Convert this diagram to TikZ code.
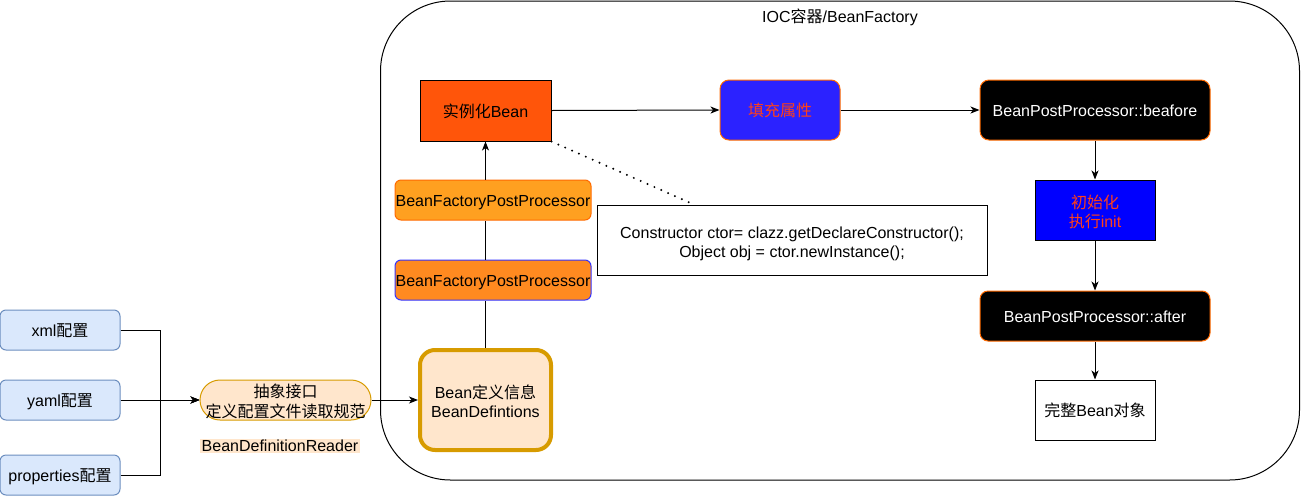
\documentclass[tikz,border=0pt]{standalone}
\usepackage{fontspec}
\setmainfont{Liberation Sans}
\newfontfamily\cjk{Noto Sans CJK SC}
\usetikzlibrary{arrows.meta}
\definecolor{cfgfill}{HTML}{DAE8FC}
\definecolor{cfgdraw}{HTML}{6C8EBF}
\definecolor{peach}{HTML}{FFE6CC}
\definecolor{gold}{HTML}{D79B00}
\definecolor{instfill}{HTML}{FF550A}
\definecolor{fillblue}{HTML}{2B22FF}
\definecolor{redtext}{HTML}{FF4019}
\definecolor{orangeline}{HTML}{FF6A00}
\definecolor{bfppa}{HTML}{FFA020}
\definecolor{bfppb}{HTML}{FF8A20}
\definecolor{linkblue}{HTML}{3333FF}
\newcommand{\ntxt}[2][-2.9pt]{\raisebox{#1}[\height][\depth]{\begin{tabular}{@{}c@{}}#2\end{tabular}}}
\begin{document}
\begin{tikzpicture}[x=1pt,y=-1pt,
  font=\fontsize{16}{19}\selectfont,
  base/.style={draw, line width=1pt, inner sep=0pt, align=center},
  cfg/.style={base, fill=cfgfill, draw=cfgdraw, rounded corners=6pt, minimum width=120pt, minimum height=40pt},
  arr/.style={line width=1pt, -{Stealth[length=9pt,width=7pt,inset=2.5pt]}},
  ln/.style={line width=1pt}]
\useasboundingbox (0,0) rectangle (1301,496);

% container
\node[draw, line width=1pt, rounded corners=70pt, minimum width=919pt, minimum height=479pt, inner sep=0pt] (ioc) at (840,240.5) {};
\node (title) at (840,17) {IOC{\cjk 容器}/BeanFactory};

% config sources
\node[cfg] (xml) at (60,330) {\ntxt{xml{\cjk 配置}}};
\node[cfg] (yaml) at (60,400) {\ntxt{yaml{\cjk 配置}}};
\node[cfg] (prop) at (60,475) {\ntxt{properties{\cjk 配置}}};
\coordinate (join) at (160,400);

\node[base, fill=peach, draw=gold, rounded corners=20pt, minimum width=171pt, minimum height=40pt] (reader) at (285.5,400) {\ntxt[-3.7pt]{{\cjk 抽象接口}\\{\cjk 定义配置文件读取规范}}};
\node[fill=peach, inner sep=1.5pt] (readerlbl) at (280,446) {BeanDefinitionReader};

\node[base, fill=peach, draw=gold, line width=4pt, rounded corners=15pt, minimum width=131pt, minimum height=100pt] (def) at (485.5,400) {\ntxt[-3.7pt]{Bean{\cjk 定义信息}\\BeanDefintions}};

\node[base, fill=bfppb, draw=linkblue, rounded corners=6pt, minimum width=196pt, minimum height=40pt] (bfpp2) at (493,280) {\ntxt{BeanFactoryPostProcessor}};
\node[base, fill=bfppa, draw=orangeline, rounded corners=6pt, minimum width=196pt, minimum height=40pt] (bfpp1) at (493,200) {\ntxt{BeanFactoryPostProcessor}};

\node[base, fill=instfill, minimum width=131pt, minimum height=61pt] (inst) at (485.5,110.5) {\ntxt{{\cjk 实例化}Bean}};

\node[base, fill=fillblue, draw=orangeline, rounded corners=9pt, minimum width=120pt, minimum height=60pt, text=redtext] (fill) at (780,110) {\ntxt{{\cjk 填充属性}}};

\node[base, fill=black, draw=orangeline, rounded corners=9pt, minimum width=230pt, minimum height=60pt, text=white] (before) at (1095,110) {\ntxt{BeanPostProcessor::beafore}};

\node[base, fill=blue, minimum width=120pt, minimum height=60pt, text=redtext] (init) at (1095,210) {\ntxt[-3.7pt]{{\cjk 初始化}\\{\cjk 执行}init}};

\node[base, fill=black, draw=orangeline, rounded corners=8pt, minimum width=230pt, minimum height=50pt, text=white] (after) at (1095,316) {\ntxt{BeanPostProcessor::after}};

\node[base, fill=white, minimum width=120pt, minimum height=60pt] (full) at (1095,410) {\ntxt{{\cjk 完整}Bean{\cjk 对象}}};

\node[base, fill=white, minimum width=390pt, minimum height=70pt] (code) at (792,240) {\ntxt[-3.7pt]{Constructor ctor= clazz.getDeclareConstructor();\\Object obj = ctor.newInstance();}};
\coordinate (codetop) at (695,205);

% connectors
\draw[arr] (xml.east) -| (join) -- (reader.west);
\draw[arr] (yaml.east) -- (reader.west);
\draw[arr] (prop.east) -| (join) -- (reader.west);
\draw[arr] (reader.east) -- (def.west);
\draw[ln] (def.north) -- (def.north |- bfpp2.south);
\draw[ln] (def.north |- bfpp2.north) -- (def.north |- bfpp1.south);
\draw[arr] (def.north |- bfpp1.north) -- (inst.south);
\draw[arr] (inst.east) -- (fill.west);
\draw[arr] (fill.east) -- (before.west);
\draw[arr] (before.south) -- (init.north);
\draw[arr] (init.south) -- (after.north);
\draw[arr] (after.south) -- (full.north);
\draw[line width=2.2pt, line cap=round, dash pattern=on 0pt off 7.5pt] (inst.south east) -- (codetop);
\end{tikzpicture}
\end{document}
